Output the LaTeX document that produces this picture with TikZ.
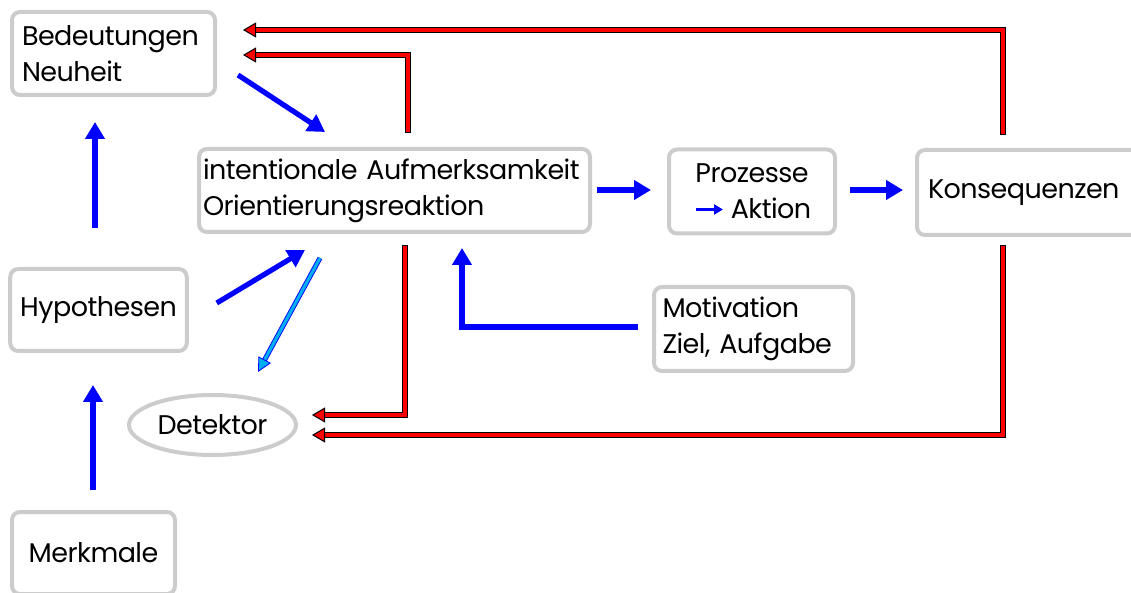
\documentclass[tikz,border=0pt]{standalone}
\usepackage{fontspec}
\setmainfont{Poppins}[LetterSpace=-2]
\usetikzlibrary{arrows.meta,calc,shapes.geometric}
\definecolor{boxgray}{RGB}{204,204,204}
\hyphenpenalty=10000
\exhyphenpenalty=10000
\tikzset{
  box/.style       = {draw=boxgray, line width=2pt, rounded corners=4pt, fill=white,
                      inner xsep=5pt, inner ysep=0pt, minimum height=41.5pt,
                      font=\fontsize{13.5}{18}\selectfont},
  oval/.style      = {ellipse, draw=boxgray, line width=2pt, fill=white, inner sep=0pt,
                      font=\fontsize{13.5}{18}\selectfont},
  flow/.style      = {draw=blue, line width=2.6pt, -{Triangle[length=8.5pt,width=9.5pt]}},
  small flow/.style= {draw=blue, line width=1.6pt, -{Triangle[length=4.5pt,width=5pt]}},
  feedback/.style  = {draw=red, line width=1.6pt, shorten <=0.5pt,
                      -{Triangle[length=6.5pt,width=7.5pt,color=black,fill=red,line width=0.5pt]},
                      preaction={draw=black, line width=2.6pt, shorten >=3pt, shorten <=0pt, -}},
  probe/.style     = {draw=cyan, line width=1.6pt,
                      -{Triangle[length=7pt,width=7pt,color=blue,fill=cyan,line width=0.4pt]},
                      preaction={draw=blue, line width=2.5pt, shorten >=3pt, -}},
}

\begin{document}
\begin{tikzpicture}[x=0.5pt, y=-0.5pt]
  \useasboundingbox (0,0) rectangle (1131,593);
  \node[box, text width=91.5pt, align=left] (bedeut) at (113.5,53.5) {Bedeutungen\\Neuheit};
  \node[box, inner xsep=2pt, text width=191.5pt, align=left] (intent) at (394.5,190.5)
       {intentionale Aufmerksamkeit\\Orientierungsreaktion};
  \node[box, minimum width=83pt, minimum height=42pt, align=center] (prozess) at (752,191.5)
       {Prozesse\\\hspace*{19pt}Aktion};
  \node[box, inner xsep=5.5pt, text width=114pt, minimum height=42.5pt, align=left] (konseq)
       at (1042,192.5) {Konsequenzen};
  \node[box, minimum width=86.5pt, minimum height=41pt, align=center] (hypo) at (98.5,310) {Hypothesen};
  \node[box, inner xsep=4.25pt, text width=91pt, minimum height=42pt, align=left] (motiv)
       at (753.5,329) {Motivation\\Ziel, Aufgabe};
  \node[oval, minimum width=83.5pt, minimum height=30pt] (detekt) at (212.5,425) {Detektor};
  \node[box, minimum width=81.5pt, minimum height=41pt, align=center] (merkm) at (93.5,553) {Merkmale};

  \draw[flow] ($(merkm.north)+(-0.5,-20)$) -- ($(hypo.south)+(-5.5,32)$);
  \draw[flow] ($(hypo.north)+(-3.5,-39)$) -- ($(bedeut.south)+(-18.5,25)$);
  \draw[flow] ($(bedeut.east)+(21,21.5)$) -- ($(intent.north)+(-69.5,-15)$);
  \draw[flow] ($(hypo.east)+(28,-7)$) -- ($(intent.south)+(-89.5,16)$);
  \draw[probe] ($(intent.south)+(-74.5,24)$) -- ($(detekt.north)+(45.5,-21)$);
  \draw[flow] ($(intent.east)+(5,-0.5)$) -- ($(prozess.west)+(-16,-1.5)$);
  \draw[flow] ($(prozess.east)+(13,-1.5)$) -- ($(konseq.west)+(-12,-2.5)$);
  \draw[flow] ($(motiv.west)+(-14,-2)$) -| ($(intent.south)+(67.5,14)$);
  \draw[small flow] ($(prozess.center)+(-56,18)$) -- ($(prozess.center)+(-29,18)$);

  \draw[feedback] ($(intent.north)+(13.5,-14)$) |- ($(bedeut.east)+(26,1.5)$);
  \draw[feedback] ($(konseq.north)+(-39,-13)$) |- ($(bedeut.east)+(26,-23.5)$);
  \draw[feedback] ($(intent.south)+(10.5,11)$) |- ($(detekt.east)+(14,-10)$);
  \draw[feedback] ($(konseq.south)+(-39,8)$) |- ($(detekt.east)+(14,10)$);
\end{tikzpicture}
\end{document}
